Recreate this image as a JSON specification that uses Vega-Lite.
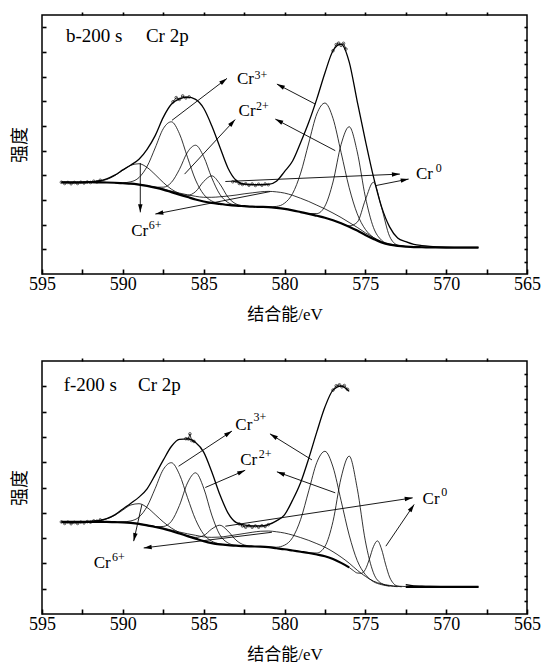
{
  "$schema": "https://vega.github.io/schema/vega-lite/v6.json",
  "padding": {"left": 10, "top": 10, "right": 5, "bottom": 5},
  "spacing": 33,
  "config": {
    "view": {"stroke": "black", "strokeWidth": 1.5},
    "axis": {"grid": false, "domain": false, "tickColor": "black", "labelColor": "black", "titleColor": "black", "tickWidth": 1.6, "tickOpacity": 1},
    "line": {"color": "black"},
    "text": {"color": "black"}
  },
  "datasets": {
    "p1": [
      {"x":593.8,"bg":3.72,"env":3.72},
      {"x":593.5,"bg":3.72,"env":3.72},
      {"x":593,"bg":3.72,"env":3.71},
      {"x":592.5,"bg":3.72,"env":3.71,"A":3.72},
      {"x":592,"bg":3.72,"env":3.73,"A":3.73},
      {"x":591.5,"bg":3.715,"env":3.77,"A":3.76},
      {"x":591,"bg":3.71,"env":3.86,"A":3.83},
      {"x":590.5,"bg":3.7,"env":4.01,"A":3.99,"B":3.7,"E":3.7},
      {"x":590,"bg":3.68,"env":4.22,"A":4.21,"B":3.7,"E":3.68},
      {"x":589.5,"bg":3.66,"env":4.42,"A":4.41,"B":3.74,"E":3.66},
      {"x":589,"bg":3.62,"env":4.65,"A":4.47,"B":3.91,"E":3.63},
      {"x":588.5,"bg":3.57,"env":5.05,"A":4.32,"B":4.36,"C":3.57,"E":3.58},
      {"x":588,"bg":3.5,"env":5.61,"A":4.03,"B":5.11,"C":3.52,"E":3.52},
      {"x":587.5,"bg":3.42,"env":6.35,"A":3.71,"B":5.89,"C":3.52,"E":3.45},
      {"x":587,"bg":3.32,"env":6.88,"A":3.44,"B":6.17,"C":3.71,"D":3.32,"E":3.36},
      {"x":586.5,"bg":3.22,"env":7.1,"A":3.26,"B":5.69,"C":4.24,"D":3.23,"E":3.28},
      {"x":586,"bg":3.12,"env":7.17,"A":3.13,"B":4.73,"C":4.94,"D":3.19,"E":3.21},
      {"x":585.5,"bg":3.02,"env":7.08,"A":3.02,"B":3.81,"C":5.22,"D":3.34,"E":3.15},
      {"x":585,"bg":2.94,"env":6.72,"B":3.23,"C":4.76,"D":3.75,"E":3.11},
      {"x":584.5,"bg":2.88,"env":6.01,"B":2.96,"C":3.9,"D":3.98,"E":3.11},
      {"x":584,"bg":2.84,"env":5.15,"B":2.86,"C":3.23,"D":3.65,"E":3.13},
      {"x":583.5,"bg":2.8,"env":4.3,"B":2.8,"C":2.9,"D":3.12,"E":3.16},
      {"x":583,"bg":2.77,"env":3.8,"C":2.79,"D":2.84,"E":3.2},
      {"x":582.5,"bg":2.75,"env":3.64,"C":2.75,"D":2.76,"E":3.25},
      {"x":582,"bg":2.73,"env":3.62,"D":2.73,"E":3.29},
      {"x":581.5,"bg":2.72,"env":3.62,"E":3.33,"F":2.72},
      {"x":581,"bg":2.71,"env":3.63,"E":3.35,"F":2.72},
      {"x":580.5,"bg":2.68,"env":3.76,"E":3.33,"F":2.74},
      {"x":580,"bg":2.64,"env":4.15,"E":3.28,"F":2.87},
      {"x":579.5,"bg":2.58,"env":4.58,"E":3.19,"F":3.26},
      {"x":579,"bg":2.51,"env":5.33,"E":3.07,"F":4.09,"G":2.51},
      {"x":578.5,"bg":2.44,"env":6.15,"E":2.94,"F":5.31,"G":2.45},
      {"x":578,"bg":2.36,"env":7.1,"E":2.79,"F":6.49,"G":2.45},
      {"x":577.5,"bg":2.28,"env":8.15,"E":2.64,"F":6.93,"G":2.75},
      {"x":577,"bg":2.18,"env":9.05,"E":2.47,"F":6.31,"G":3.73},
      {"x":576.5,"bg":2.06,"env":9.32,"E":2.29,"F":4.93,"G":5.25,"H":2.06},
      {"x":576,"bg":1.92,"env":8.6,"E":2.09,"F":3.5,"G":5.97,"H":1.95},
      {"x":575.5,"bg":1.76,"env":6.99,"E":1.89,"F":2.44,"G":4.95,"H":2.1},
      {"x":575,"bg":1.58,"env":5.42,"E":1.67,"F":1.81,"G":3.13,"H":3.0},
      {"x":574.5,"bg":1.42,"env":3.95,"E":1.48,"F":1.48,"G":1.89,"H":3.72},
      {"x":574,"bg":1.28,"env":2.73,"E":1.32,"F":1.29,"G":1.37,"H":2.7},
      {"x":573.5,"bg":1.19,"env":1.91,"E":1.22,"F":1.19,"G":1.2,"H":1.53},
      {"x":573,"bg":1.14,"env":1.46,"E":1.16,"G":1.14,"H":1.17},
      {"x":572.5,"bg":1.11,"env":1.31,"E":1.12,"H":1.11},
      {"x":572,"bg":1.09,"env":1.2,"E":1.1},
      {"x":571.5,"bg":1.085,"env":1.15,"E":1.09},
      {"x":571,"bg":1.08,"env":1.12,"E":1.08},
      {"x":570,"bg":1.07,"env":1.09},
      {"x":569,"bg":1.07,"env":1.08},
      {"x":568,"bg":1.07,"env":1.08}
    ],
    "p2": [
      {"x":593.8,"bg":3.64,"env":3.64},
      {"x":593.5,"bg":3.64,"env":3.64},
      {"x":593,"bg":3.64,"env":3.63},
      {"x":592.5,"bg":3.64,"env":3.64,"A":3.64},
      {"x":592,"bg":3.64,"env":3.66,"A":3.65},
      {"x":591.5,"bg":3.64,"env":3.69,"A":3.68},
      {"x":591,"bg":3.64,"env":3.77,"A":3.76},
      {"x":590.5,"bg":3.63,"env":3.92,"A":3.9,"B":3.63,"E":3.63},
      {"x":590,"bg":3.62,"env":4.15,"A":4.11,"B":3.64,"E":3.62},
      {"x":589.5,"bg":3.6,"env":4.38,"A":4.31,"B":3.68,"E":3.6},
      {"x":589,"bg":3.56,"env":4.62,"A":4.36,"B":3.83,"E":3.57},
      {"x":588.5,"bg":3.5,"env":4.95,"A":4.21,"B":4.25,"C":3.5,"E":3.51},
      {"x":588,"bg":3.44,"env":5.5,"A":3.93,"B":4.96,"C":3.45,"E":3.46},
      {"x":587.5,"bg":3.37,"env":6.08,"A":3.64,"B":5.71,"C":3.46,"E":3.4},
      {"x":587,"bg":3.28,"env":6.62,"A":3.4,"B":5.98,"C":3.66,"E":3.32},
      {"x":586.5,"bg":3.18,"env":6.9,"A":3.22,"B":5.52,"C":4.29,"E":3.24},
      {"x":586,"bg":3.08,"env":6.92,"A":3.09,"B":4.6,"C":5.18,"D":3.09,"E":3.17},
      {"x":585.5,"bg":2.98,"env":6.78,"A":2.98,"B":3.73,"C":5.58,"D":3.03,"E":3.11},
      {"x":585,"bg":2.88,"env":6.4,"B":3.15,"C":4.98,"D":3.1,"E":3.05},
      {"x":584.5,"bg":2.8,"env":5.62,"B":2.88,"C":3.91,"D":3.36,"E":3.03},
      {"x":584,"bg":2.75,"env":4.72,"B":2.77,"C":3.13,"D":3.51,"E":3.04},
      {"x":583.5,"bg":2.72,"env":4.0,"B":2.72,"C":2.81,"D":3.28,"E":3.08},
      {"x":583,"bg":2.7,"env":3.62,"C":2.71,"D":2.92,"E":3.13},
      {"x":582.5,"bg":2.68,"env":3.52,"C":2.68,"D":2.73,"E":3.18},
      {"x":582,"bg":2.67,"env":3.48,"D":2.68,"E":3.23},
      {"x":581.5,"bg":2.66,"env":3.48,"E":3.27},
      {"x":581,"bg":2.64,"env":3.53,"E":3.28,"F":2.65},
      {"x":580.5,"bg":2.6,"env":3.68,"E":3.25,"F":2.64},
      {"x":580,"bg":2.56,"env":3.92,"E":3.2,"F":2.72},
      {"x":579.5,"bg":2.51,"env":4.5,"E":3.12,"F":3.02},
      {"x":579,"bg":2.46,"env":5.2,"E":3.02,"F":3.74},
      {"x":578.5,"bg":2.41,"env":6.15,"E":2.91,"F":4.87,"G":2.42},
      {"x":578,"bg":2.35,"env":7.2,"E":2.78,"F":5.99,"G":2.41},
      {"x":577.5,"bg":2.28,"env":8.18,"E":2.64,"F":6.43,"G":2.67},
      {"x":577,"bg":2.17,"env":8.85,"E":2.46,"F":5.81,"G":3.66},
      {"x":576.5,"bg":2.02,"env":9.01,"E":2.25,"F":4.48,"G":5.38},
      {"x":576,"bg":1.84,"env":8.8,"E":2.01,"F":3.12,"G":6.24,"H":1.84},
      {"x":575.75,"H":1.72},
      {"x":575.5,"bg":1.6,"env":7.45,"E":1.73,"F":2.11,"G":4.96,"H":1.62},
      {"x":575.25,"H":1.61},
      {"x":575,"bg":1.4,"env":5.51,"E":1.49,"F":1.56,"G":2.89,"H":1.76},
      {"x":574.75,"H":2.17},
      {"x":574.5,"bg":1.24,"env":3.8,"E":1.3,"F":1.28,"G":1.63,"H":2.66},
      {"x":574.25,"H":2.89},
      {"x":574,"bg":1.15,"env":2.62,"E":1.19,"F":1.16,"G":1.21,"H":2.57},
      {"x":573.75,"H":1.97},
      {"x":573.5,"bg":1.1,"env":1.8,"E":1.13,"F":1.1,"G":1.11,"H":1.46},
      {"x":573.25,"H":1.2},
      {"x":573,"bg":1.08,"env":1.38,"E":1.1,"G":1.08,"H":1.1},
      {"x":572.75,"H":1.075},
      {"x":572.5,"bg":1.075,"env":1.16,"E":1.085},
      {"x":572,"bg":1.07,"env":1.11,"E":1.08},
      {"x":571.5,"bg":1.07,"env":1.1,"E":1.07},
      {"x":571,"bg":1.07,"env":1.09,"E":1.07},
      {"x":570,"bg":1.07,"env":1.08},
      {"x":569,"bg":1.07,"env":1.07},
      {"x":568,"bg":1.07,"env":1.07}
    ],
    "r1": [
      {"seg":"a","x":593.8,"y":3.72},{"seg":"a","x":593.6,"y":3.67},{"seg":"a","x":593.4,"y":3.71},{"seg":"a","x":593.2,"y":3.66},{"seg":"a","x":593.0,"y":3.71},{"seg":"a","x":592.8,"y":3.67},{"seg":"a","x":592.6,"y":3.72},{"seg":"a","x":592.4,"y":3.69},{"seg":"a","x":592.2,"y":3.73},{"seg":"a","x":592.0,"y":3.71},{"seg":"a","x":591.8,"y":3.76},{"seg":"a","x":591.6,"y":3.74},{"seg":"a","x":591.4,"y":3.8},
      {"seg":"b","x":583.2,"y":3.74},{"seg":"b","x":583.0,"y":3.76},{"seg":"b","x":582.8,"y":3.67},{"seg":"b","x":582.6,"y":3.63},{"seg":"b","x":582.4,"y":3.66},{"seg":"b","x":582.2,"y":3.6},{"seg":"b","x":582.0,"y":3.65},{"seg":"b","x":581.8,"y":3.59},{"seg":"b","x":581.6,"y":3.64},{"seg":"b","x":581.4,"y":3.6},{"seg":"b","x":581.2,"y":3.65},{"seg":"b","x":581.0,"y":3.62},
      {"seg":"c","x":577.0,"y":9.05},{"seg":"c","x":576.8,"y":9.3},{"seg":"c","x":576.65,"y":9.36},{"seg":"c","x":576.5,"y":9.27},{"seg":"c","x":576.35,"y":9.35},{"seg":"c","x":576.2,"y":9.12},
      {"seg":"d","x":586.9,"y":6.98},{"seg":"d","x":586.7,"y":7.15},{"seg":"d","x":586.5,"y":7.08},{"seg":"d","x":586.3,"y":7.22},{"seg":"d","x":586.1,"y":7.14},{"seg":"d","x":585.9,"y":7.18}
    ],
    "r2": [
      {"seg":"a","x":593.8,"y":3.64},{"seg":"a","x":593.6,"y":3.58},{"seg":"a","x":593.4,"y":3.63},{"seg":"a","x":593.2,"y":3.57},{"seg":"a","x":593.0,"y":3.62},{"seg":"a","x":592.8,"y":3.58},{"seg":"a","x":592.6,"y":3.63},{"seg":"a","x":592.4,"y":3.6},{"seg":"a","x":592.2,"y":3.65},{"seg":"a","x":592.0,"y":3.63},{"seg":"a","x":591.8,"y":3.68},{"seg":"a","x":591.6,"y":3.67},{"seg":"a","x":591.4,"y":3.72},
      {"seg":"b","x":582.8,"y":3.56},{"seg":"b","x":582.6,"y":3.48},{"seg":"b","x":582.4,"y":3.43},{"seg":"b","x":582.2,"y":3.49},{"seg":"b","x":582.0,"y":3.43},{"seg":"b","x":581.8,"y":3.48},{"seg":"b","x":581.6,"y":3.43},{"seg":"b","x":581.4,"y":3.49},{"seg":"b","x":581.2,"y":3.46},{"seg":"b","x":581.0,"y":3.53},
      {"seg":"c","x":586.1,"y":6.93},{"seg":"c","x":585.95,"y":6.92},{"seg":"c","x":585.85,"y":7.12},{"seg":"c","x":585.75,"y":6.86},{"seg":"c","x":585.6,"y":6.82},
      {"seg":"d","x":577.0,"y":8.85},{"seg":"d","x":576.8,"y":9.02},{"seg":"d","x":576.6,"y":9.06},{"seg":"d","x":576.45,"y":8.98},{"seg":"d","x":576.3,"y":9.03},{"seg":"d","x":576.1,"y":8.88}
    ],
    "a1": [
      {"x":588.92,"y":4.5,"x2":588.92,"y2":2.5},
      {"x":580.9,"y":3.34,"x2":587.99,"y2":2.43},
      {"x":586.96,"y":6.23,"x2":583.56,"y2":7.93},
      {"x":578.1,"y":6.89,"x2":580.47,"y2":7.7},
      {"x":586.18,"y":4.05,"x2":583.05,"y2":6.26},
      {"x":576.86,"y":5.0,"x2":580.57,"y2":6.28},
      {"x":583.66,"y":3.75,"x2":572.86,"y2":4.05},
      {"x":574.39,"y":3.58,"x2":572.32,"y2":3.85}
    ],
    "a2": [
      {"x":588.82,"y":4.33,"x2":589.33,"y2":2.88},
      {"x":580.78,"y":3.23,"x2":588.71,"y2":2.61},
      {"x":586.55,"y":5.84,"x2":583.25,"y2":7.23},
      {"x":578.3,"y":6.09,"x2":580.9,"y2":7.12},
      {"x":584.9,"y":5.0,"x2":582.43,"y2":5.68},
      {"x":576.86,"y":4.79,"x2":580.47,"y2":5.62},
      {"x":583.66,"y":3.47,"x2":572.07,"y2":4.59},
      {"x":573.73,"y":2.68,"x2":571.98,"y2":4.33}
    ],
    "h1": [{"t":"b-200 s","x":593.52,"y":9.42},{"t":"Cr 2p","x":588.57,"y":9.42}],
    "h2": [{"t":"f-200 s","x":593.66,"y":8.8},{"t":"Cr 2p","x":589.06,"y":8.8}],
    "t1": [
      {"t":"Cr","x":582.94,"y":7.7},{"t":"Cr","x":582.84,"y":6.42},{"t":"Cr","x":571.87,"y":3.85},{"t":"Cr","x":589.48,"y":1.56}
    ],
    "s1": [
      {"t":"3+","x":581.85,"y":7.9},{"t":"2+","x":581.77,"y":6.66},{"t":"0","x":570.65,"y":4.12},{"t":"6+","x":588.4,"y":1.82}
    ],
    "t2": [
      {"t":"Cr","x":583.04,"y":7.28},{"t":"Cr","x":582.74,"y":5.87},{"t":"Cr","x":571.46,"y":4.33},{"t":"Cr","x":591.8,"y":1.82}
    ],
    "s2": [
      {"t":"3+","x":581.91,"y":7.64},{"t":"2+","x":581.6,"y":6.15},{"t":"0","x":570.3,"y":4.66},{"t":"6+","x":590.67,"y":2.08}
    ]
  },
  "vconcat": [
    {
      "width": 485, "height": 259,
      "resolve": {"axis": {"x": "independent", "y": "independent"}},
      "layer": [
        {
          "data": {"name": "p1"},
          "transform": [{"fold": ["A","B","C","D","E","F","G","H"], "as": ["comp","val"]}, {"filter": "isValid(datum.val)"}],
          "mark": {"type": "line", "interpolate": "monotone", "color": "black", "strokeWidth": 0.8},
          "encoding": {
            "x": {"field": "x", "type": "quantitative", "scale": {"domain": [565, 595], "reverse": true, "nice": false, "zero": false},
                  "axis": {"orient": "bottom", "values": [565,567.5,570,572.5,575,577.5,580,582.5,585,587.5,590,592.5,595], "labelExpr": "datum.value % 5 === 0 ? datum.label : ''", "tickSize": -5, "labelFont": "Liberation Serif", "labelFontSize": 18, "labelPadding": 6, "labelOverlap": false, "labelFlush": false, "title": "结合能/eV", "titleFont": "Liberation Serif, 'Noto Sans CJK SC'", "titleFontSize": 17, "titleFontWeight": "normal", "titlePadding": 13}},
            "y": {"field": "val", "type": "quantitative", "scale": {"domain": [0, 10.5], "nice": false, "zero": false},
                  "axis": {"orient": "left", "values": [1,2,3,4,5,6,7,8,9,10], "labels": false, "tickSize": -4, "title": "强度", "titleFont": "'Noto Sans CJK SC'", "titleFontSize": 18, "titleFontWeight": "normal", "titlePadding": 12}},
            "detail": {"field": "comp"}
          }
        },
        {
          "data": {"name": "p1"},
          "mark": {"type": "line", "interpolate": "monotone", "color": "black", "strokeWidth": 2.2},
          "encoding": {
            "x": {"field": "x", "type": "quantitative", "scale": {"domain": [565, 595], "reverse": true, "nice": false, "zero": false},
                  "axis": {"orient": "top", "values": [567.5,570,572.5,575,577.5,580,582.5,585,587.5,590,592.5], "labels": false, "tickSize": 3, "title": null}},
            "y": {"field": "bg", "type": "quantitative", "scale": {"domain": [0, 10.5], "nice": false, "zero": false},
                  "axis": {"orient": "right", "values": [0.5,1,1.5,2,2.5,3,3.5,4,4.5,5,5.5,6,6.5,7,7.5,8,8.5,9,9.5,10], "labels": false, "tickSize": -3, "title": null}}
          }
        },
        {
          "data": {"name": "p1"},
          "mark": {"type": "line", "interpolate": "monotone", "color": "black", "strokeWidth": 1.3},
          "encoding": {
            "x": {"field": "x", "type": "quantitative", "scale": {"domain": [565, 595], "reverse": true, "nice": false, "zero": false}, "axis": null},
            "y": {"field": "env", "type": "quantitative", "scale": {"domain": [0, 10.5], "nice": false, "zero": false}, "axis": null}
          }
        },
        {
          "data": {"name": "r1"},
          "mark": {"type": "line", "color": "black", "strokeWidth": 0.8, "point": {"filled": false, "size": 7, "color": "black", "strokeWidth": 0.6}},
          "encoding": {
            "x": {"field": "x", "type": "quantitative", "scale": {"domain": [565, 595], "reverse": true, "nice": false, "zero": false}, "axis": null},
            "y": {"field": "y", "type": "quantitative", "scale": {"domain": [0, 10.5], "nice": false, "zero": false}, "axis": null},
            "detail": {"field": "seg"}
          }
        },
        {
          "data": {"name": "a1"},
          "mark": {"type": "rule", "color": "black", "strokeWidth": 0.9},
          "encoding": {
            "x": {"field": "x", "type": "quantitative", "scale": {"domain": [565, 595], "reverse": true, "nice": false, "zero": false}, "axis": null},
            "y": {"field": "y", "type": "quantitative", "scale": {"domain": [0, 10.5], "nice": false, "zero": false}, "axis": null},
            "x2": {"field": "x2"},
            "y2": {"field": "y2"}
          }
        },
        {
          "data": {"name": "a1"},
          "transform": [{"calculate": "atan2(-(datum.x2-datum.x)*16.167, (datum.y2-datum.y)*24.667)*180/PI", "as": "ang"}],
          "mark": {"type": "point", "shape": "M0,0L0.45,1.6L-0.45,1.6Z", "filled": true, "color": "black", "opacity": 1, "size": 100, "strokeWidth": 0},
          "encoding": {
            "x": {"field": "x2", "type": "quantitative", "scale": {"domain": [565, 595], "reverse": true, "nice": false, "zero": false}, "axis": null},
            "y": {"field": "y2", "type": "quantitative", "scale": {"domain": [0, 10.5], "nice": false, "zero": false}, "axis": null},
            "angle": {"field": "ang", "type": "quantitative", "scale": null}
          }
        },
        {
          "data": {"name": "h1"},
          "mark": {"type": "text", "align": "left", "baseline": "alphabetic", "font": "Liberation Serif", "fontSize": 19, "color": "black"},
          "encoding": {
            "x": {"field": "x", "type": "quantitative", "scale": {"domain": [565, 595], "reverse": true, "nice": false, "zero": false}, "axis": null},
            "y": {"field": "y", "type": "quantitative", "scale": {"domain": [0, 10.5], "nice": false, "zero": false}, "axis": null},
            "text": {"field": "t"}
          }
        },
        {
          "data": {"name": "t1"},
          "mark": {"type": "text", "align": "left", "baseline": "alphabetic", "font": "Liberation Serif", "fontSize": 17, "color": "black"},
          "encoding": {
            "x": {"field": "x", "type": "quantitative", "scale": {"domain": [565, 595], "reverse": true, "nice": false, "zero": false}, "axis": null},
            "y": {"field": "y", "type": "quantitative", "scale": {"domain": [0, 10.5], "nice": false, "zero": false}, "axis": null},
            "text": {"field": "t"}
          }
        },
        {
          "data": {"name": "s1"},
          "mark": {"type": "text", "align": "left", "baseline": "alphabetic", "font": "Liberation Serif", "fontSize": 12, "color": "black"},
          "encoding": {
            "x": {"field": "x", "type": "quantitative", "scale": {"domain": [565, 595], "reverse": true, "nice": false, "zero": false}, "axis": null},
            "y": {"field": "y", "type": "quantitative", "scale": {"domain": [0, 10.5], "nice": false, "zero": false}, "axis": null},
            "text": {"field": "t"}
          }
        }
      ]
    },
    {
      "width": 485, "height": 253,
      "resolve": {"axis": {"x": "independent", "y": "independent"}},
      "layer": [
        {
          "data": {"name": "p2"},
          "transform": [{"fold": ["A","B","C","D","E","F","G","H"], "as": ["comp","val"]}, {"filter": "isValid(datum.val)"}],
          "mark": {"type": "line", "interpolate": "monotone", "color": "black", "strokeWidth": 0.8},
          "encoding": {
            "x": {"field": "x", "type": "quantitative", "scale": {"domain": [565, 595], "reverse": true, "nice": false, "zero": false},
                  "axis": {"orient": "bottom", "values": [565,567.5,570,572.5,575,577.5,580,582.5,585,587.5,590,592.5,595], "labelExpr": "datum.value % 5 === 0 ? datum.label : ''", "tickSize": -5, "labelFont": "Liberation Serif", "labelFontSize": 18, "labelPadding": 6, "labelOverlap": false, "labelFlush": false, "title": "结合能/eV", "titleFont": "Liberation Serif, 'Noto Sans CJK SC'", "titleFontSize": 17, "titleFontWeight": "normal", "titlePadding": 13}},
            "y": {"field": "val", "type": "quantitative", "scale": {"domain": [0, 10], "nice": false, "zero": false},
                  "axis": {"orient": "left", "values": [1,2,3,4,5,6,7,8,9], "labels": false, "tickSize": -4, "title": "强度", "titleFont": "'Noto Sans CJK SC'", "titleFontSize": 18, "titleFontWeight": "normal", "titlePadding": 12}},
            "detail": {"field": "comp"}
          }
        },
        {
          "data": {"name": "p2"},
          "mark": {"type": "line", "interpolate": "monotone", "color": "black", "strokeWidth": 2.2},
          "encoding": {
            "x": {"field": "x", "type": "quantitative", "scale": {"domain": [565, 595], "reverse": true, "nice": false, "zero": false},
                  "axis": {"orient": "top", "values": [567.5,570,572.5,575,577.5,580,582.5,585,587.5,590,592.5], "labels": false, "tickSize": 3, "title": null}},
            "y": {"field": "bg", "type": "quantitative", "scale": {"domain": [0, 10], "nice": false, "zero": false},
                  "axis": {"orient": "right", "values": [0.5,1,1.5,2,2.5,3,3.5,4,4.5,5,5.5,6,6.5,7,7.5,8,8.5,9,9.5], "labels": false, "tickSize": -3, "title": null}}
          }
        },
        {
          "data": {"name": "p2"},
          "mark": {"type": "line", "interpolate": "monotone", "color": "black", "strokeWidth": 1.3},
          "encoding": {
            "x": {"field": "x", "type": "quantitative", "scale": {"domain": [565, 595], "reverse": true, "nice": false, "zero": false}, "axis": null},
            "y": {"field": "env", "type": "quantitative", "scale": {"domain": [0, 10], "nice": false, "zero": false}, "axis": null}
          }
        },
        {
          "data": {"name": "r2"},
          "mark": {"type": "line", "color": "black", "strokeWidth": 0.8, "point": {"filled": false, "size": 7, "color": "black", "strokeWidth": 0.6}},
          "encoding": {
            "x": {"field": "x", "type": "quantitative", "scale": {"domain": [565, 595], "reverse": true, "nice": false, "zero": false}, "axis": null},
            "y": {"field": "y", "type": "quantitative", "scale": {"domain": [0, 10], "nice": false, "zero": false}, "axis": null},
            "detail": {"field": "seg"}
          }
        },
        {
          "data": {"name": "a2"},
          "mark": {"type": "rule", "color": "black", "strokeWidth": 0.9},
          "encoding": {
            "x": {"field": "x", "type": "quantitative", "scale": {"domain": [565, 595], "reverse": true, "nice": false, "zero": false}, "axis": null},
            "y": {"field": "y", "type": "quantitative", "scale": {"domain": [0, 10], "nice": false, "zero": false}, "axis": null},
            "x2": {"field": "x2"},
            "y2": {"field": "y2"}
          }
        },
        {
          "data": {"name": "a2"},
          "transform": [{"calculate": "atan2(-(datum.x2-datum.x)*16.167, (datum.y2-datum.y)*25.3)*180/PI", "as": "ang"}],
          "mark": {"type": "point", "shape": "M0,0L0.45,1.6L-0.45,1.6Z", "filled": true, "color": "black", "opacity": 1, "size": 100, "strokeWidth": 0},
          "encoding": {
            "x": {"field": "x2", "type": "quantitative", "scale": {"domain": [565, 595], "reverse": true, "nice": false, "zero": false}, "axis": null},
            "y": {"field": "y2", "type": "quantitative", "scale": {"domain": [0, 10], "nice": false, "zero": false}, "axis": null},
            "angle": {"field": "ang", "type": "quantitative", "scale": null}
          }
        },
        {
          "data": {"name": "h2"},
          "mark": {"type": "text", "align": "left", "baseline": "alphabetic", "font": "Liberation Serif", "fontSize": 19, "color": "black"},
          "encoding": {
            "x": {"field": "x", "type": "quantitative", "scale": {"domain": [565, 595], "reverse": true, "nice": false, "zero": false}, "axis": null},
            "y": {"field": "y", "type": "quantitative", "scale": {"domain": [0, 10], "nice": false, "zero": false}, "axis": null},
            "text": {"field": "t"}
          }
        },
        {
          "data": {"name": "t2"},
          "mark": {"type": "text", "align": "left", "baseline": "alphabetic", "font": "Liberation Serif", "fontSize": 17, "color": "black"},
          "encoding": {
            "x": {"field": "x", "type": "quantitative", "scale": {"domain": [565, 595], "reverse": true, "nice": false, "zero": false}, "axis": null},
            "y": {"field": "y", "type": "quantitative", "scale": {"domain": [0, 10], "nice": false, "zero": false}, "axis": null},
            "text": {"field": "t"}
          }
        },
        {
          "data": {"name": "s2"},
          "mark": {"type": "text", "align": "left", "baseline": "alphabetic", "font": "Liberation Serif", "fontSize": 12, "color": "black"},
          "encoding": {
            "x": {"field": "x", "type": "quantitative", "scale": {"domain": [565, 595], "reverse": true, "nice": false, "zero": false}, "axis": null},
            "y": {"field": "y", "type": "quantitative", "scale": {"domain": [0, 10], "nice": false, "zero": false}, "axis": null},
            "text": {"field": "t"}
          }
        }
      ]
    }
  ]
}
